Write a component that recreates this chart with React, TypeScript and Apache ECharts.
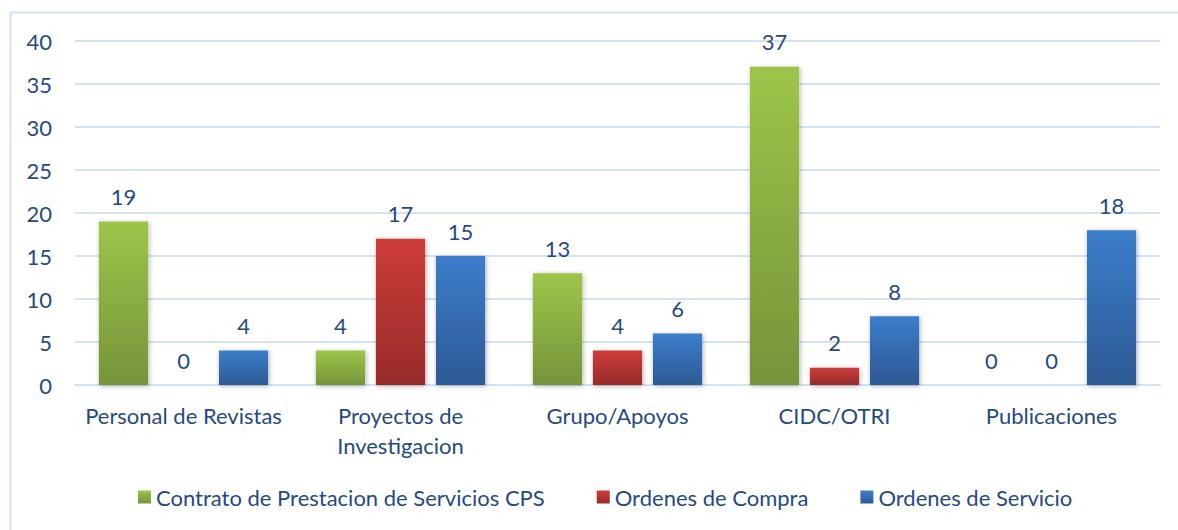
import React, { useEffect, useRef } from "react";
import * as echarts from "echarts";

const categories = ["Personal de Revistas", "Proyectos de\nInvestigacion", "Grupo/Apoyos", "CIDC/OTRI", "Publicaciones"];
const seriesNames = ["Contrato de Prestacion de Servicios CPS", "Ordenes de Compra", "Ordenes de Servicio"];
const cpsValues = [19, 4, 13, 37, 0];
const compraValues = [0, 17, 4, 2, 0];
const servicioValues = [4, 15, 6, 8, 18];
const yTicks = { min: 0, max: 40, interval: 5 };

const gradients = [
  ["#9DC549", "#76943A"],
  ["#CE3D3A", "#962B29"],
  ["#3C7DCB", "#2D5A95"],
];

const textColor = "#264a7e";
const font = "Lato, 'Noto Sans', sans-serif";
const fs = 22;

export default function App() {
  const ref = useRef<HTMLDivElement>(null);
  useEffect(() => {
    if (!ref.current) return;
    const chart = echarts.init(ref.current, null, { renderer: "svg" });
    const values = [cpsValues, compraValues, servicioValues];
    chart.setOption({
      animation: false,
      backgroundColor: "#ffffff",
      textStyle: { fontFamily: font },
      graphic: [
        {
          type: "rect",
          shape: { x: 10.5, y: 12.5, width: 1200, height: 600 },
          style: { fill: "none", stroke: "#D5E2F2", lineWidth: 2 },
          silent: true,
          z: -1,
        },
      ],
      grid: { left: 75, right: 18, top: 41, bottom: 145, containLabel: false },
      legend: {
        top: 481,
        left: 133,
        itemWidth: 13,
        itemHeight: 13,
        itemGap: 52,
        icon: "rect",
        textStyle: { color: textColor, fontSize: fs, fontFamily: font },
        data: seriesNames,
      },
      xAxis: {
        type: "category",
        data: categories,
        axisLine: { show: true, lineStyle: { color: "#D5E2F2", width: 2 } },
        axisTick: { show: false },
        axisLabel: {
          color: textColor,
          fontSize: fs,
          fontFamily: font,
          margin: 15,
          lineHeight: 30,
          interval: 0,
        },
      },
      yAxis: {
        type: "value",
        min: yTicks.min,
        max: yTicks.max,
        interval: yTicks.interval,
        axisLine: { show: false },
        axisTick: { show: false },
        splitLine: { lineStyle: { color: "#D5E2F2", width: 2 } },
        axisLabel: { color: textColor, fontSize: fs, fontFamily: font, margin: 23 },
      },
      series: seriesNames.map((name, i) => ({
        name,
        type: "bar",
        data: values[i],
        barGap: "22%",
        barCategoryGap: "22%",
        itemStyle: {
          color: new echarts.graphic.LinearGradient(0, 0, 0, 1, [
            { offset: 0, color: gradients[i][0] },
            { offset: 1, color: gradients[i][1] },
          ]),
          shadowBlur: 5,
          shadowColor: "rgba(0,0,0,0.3)",
          shadowOffsetX: 1,
          shadowOffsetY: 1,
        },
        label: {
          show: true,
          position: "top",
          distance: 14,
          color: textColor,
          fontSize: fs,
          fontFamily: font,
        },
      })),
    });
    return () => chart.dispose();
  }, []);
  return (
    <div
      ref={ref}
      style={{ position: "fixed", left: 0, top: 0, width: 1178, height: 530 }}
    />
  );
}
